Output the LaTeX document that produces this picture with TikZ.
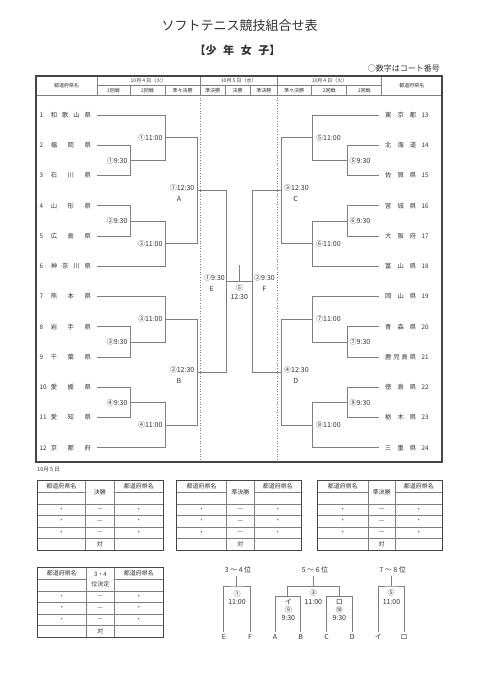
\documentclass[tikz,border=0pt]{standalone}
\usepackage{fontspec}
\newfontfamily\jp{Noto Sans CJK JP}
\usetikzlibrary{calc}
\definecolor{txt}{HTML}{333333}
\definecolor{brc}{HTML}{7F7F7F}
\definecolor{tbc}{HTML}{454545}
\newcommand\kmfork[4]{%
  \coordinate (#4) at ($(#3 |- #1)!0.5!(#3 |- #2)$);%
  \draw[br] (#1) -- (#3 |- #1) -- (#3 |- #2) -- (#2);}
\newcommand\kmteamL[3]{%
  \node[nm,anchor=west] (nl#1) at (39.5,#2) {#1};%
  \node[nm,anchor=west] (ml#1) at (50.7,#2) {\makebox[40pt][s]{#3}};%
  \coordinate (L#1) at (97,#2);}
\newcommand\kmteamR[3]{%
  \node[nm,anchor=west] (nr#1) at (421.5,#2) {#1};%
  \node[nm,anchor=west] (mr#1) at (385,#2) {\makebox[31pt][s]{#3}};%
  \coordinate (R#1) at (379,#2);}
\newcommand\kmtable[7]{%
  \draw[tin] (#3,#6) -- (#3,#6+69.5) (#4,#6) -- (#4,#6+69.5);%
  \draw[tin] (#2,#6+11.5) -- (#3,#6+11.5) (#4,#6+11.5) -- (#5,#6+11.5);%
  \foreach \r in {23.5,35,46.3,57.6} {\draw[tin] (#2,#6+\r) -- (#5,#6+\r);}%
  \draw[tbl] (#2,#6) rectangle (#5,#6+69.5);%
  \node[tb] (#1h1) at ({(#2+#3)/2},#6+5.9) {都道府県名};%
  \node[tb] (#1h2) at ({(#4+#5)/2},#6+5.9) {都道府県名};%
  \node[tb,align=center] (#1hm) at ({(#3+#4)/2},#6+11.75) {#7};%
  \foreach \r [count=\k] in {29.25,40.65,51.95} {%
    \node[tb] (#1a\k) at ({(#2+#3)/2},#6+\r) {・};%
    \node[tb] (#1b\k) at ({(#3+#4)/2},#6+\r) {—};%
    \node[tb] (#1c\k) at ({(#4+#5)/2},#6+\r) {・};}%
  \node[tb] (#1t) at ({(#3+#4)/2},#6+63.6) {対};}
\begin{document}
\begin{tikzpicture}[x=1pt,y=-1pt,
  br/.style={draw=brc,line width=0.6pt},
  tbl/.style={draw=tbc,line width=1.1pt},
  tin/.style={draw=brc,line width=0.45pt},
  dotl/.style={draw=brc,line width=0.6pt,dotted},
  hd/.style={text=txt,inner sep=0pt,font=\jp\fontsize{5}{5}\selectfont},
  nm/.style={text=txt,inner sep=0pt,font=\jp\fontsize{6.3}{6.3}\selectfont},
  lb/.style={text=txt,inner sep=0pt,font=\jp\fontsize{7}{7}\selectfont},
  tb/.style={text=txt,inner sep=0pt,font=\jp\fontsize{6}{10.6}\selectfont},
  bl/.style={text=txt,inner sep=0pt,font=\jp\fontsize{7}{7}\selectfont}]
\useasboundingbox (0,0) rectangle (480,681);
\fill[white] (0,0) rectangle (480,681);
% titles
\node[text=txt,inner sep=0pt,font=\jp\fontsize{13}{13}\selectfont] (title) at (239.5,26) {ソフトテニス競技組合せ表};
\node[text=txt,inner sep=0pt,font=\jp\bfseries\fontsize{11}{11}\selectfont] (sub) at (237.5,50) {【少\hspace{0.6em}年\hspace{0.6em}女\hspace{0.6em}子】};
\node[text=txt,inner sep=0pt,anchor=east,font=\jp\fontsize{8}{8}\selectfont] (note) at (440,68.5) {○数字はコート番号};
% main table frame
\draw[tin] (36,95) -- (442,95);
\draw[tin] (97,85.5) -- (381.7,85.5);
\foreach \x in {97,200,277.5,381.7} {\draw[tin] (\x,76) -- (\x,95);}
\foreach \x in {130,165,225,250,311.7,346.7} {\draw[tin] (\x,85.5) -- (\x,95);}
\draw[dotl] (200,95) -- (200,462) (277.5,95) -- (277.5,462);
\draw[tbl] (36,76) rectangle (442,462);
\node[hd] (hl) at (66.5,85.5) {都道府県名};
\node[hd] (hr) at (411.8,85.5) {都道府県名};
\node[hd] (d1) at (148.5,80.8) {10月 4 日（火）};
\node[hd] (d2) at (238.75,80.8) {10月 5 日（水）};
\node[hd] (d3) at (329.6,80.8) {10月 4 日（火）};
\foreach \x/\t [count=\k] in {113.5/1回戦,147.5/2回戦,182.5/準々決勝,212.5/準決勝,237.5/決勝,263.75/準決勝,294.2/準々決勝,329.2/2回戦,364.2/1回戦}
  {\node[hd] (hs\k) at (\x,90.3) {\t};}
% teams
\kmteamL{1}{115}{和\hfill 歌\hfill 山\hfill 県}
\kmteamL{2}{145.25}{福\hfill 岡\hfill 県}
\kmteamL{3}{175.5}{石\hfill 川\hfill 県}
\kmteamL{4}{205.75}{山\hfill 形\hfill 県}
\kmteamL{5}{236}{広\hfill 島\hfill 県}
\kmteamL{6}{266.25}{神\hfill 奈\hfill 川\hfill 県}
\kmteamL{7}{296.5}{熊\hfill 本\hfill 県}
\kmteamL{8}{326.75}{岩\hfill 手\hfill 県}
\kmteamL{9}{357}{千\hfill 葉\hfill 県}
\kmteamL{10}{387.25}{愛\hfill 媛\hfill 県}
\kmteamL{11}{417.5}{愛\hfill 知\hfill 県}
\kmteamL{12}{447.75}{京\hfill 都\hfill 府}
\kmteamR{13}{115}{東\hfill 京\hfill 都}
\kmteamR{14}{145.25}{北\hfill 海\hfill 道}
\kmteamR{15}{175.5}{佐\hfill 賀\hfill 県}
\kmteamR{16}{205.75}{宮\hfill 城\hfill 県}
\kmteamR{17}{236}{大\hfill 阪\hfill 府}
\kmteamR{18}{266.25}{富\hfill 山\hfill 県}
\kmteamR{19}{296.5}{岡\hfill 山\hfill 県}
\kmteamR{20}{326.75}{青\hfill 森\hfill 県}
\kmteamR{21}{357}{鹿\hfill 児\hfill 島\hfill 県}
\kmteamR{22}{387.25}{徳\hfill 島\hfill 県}
\kmteamR{23}{417.5}{栃\hfill 木\hfill 県}
\kmteamR{24}{447.75}{三\hfill 重\hfill 県}
% column references
\coordinate (xl1) at (130,0); \coordinate (xl2) at (165,0);
\coordinate (xl3) at (197,0); \coordinate (xl4) at (226.5,0);
\coordinate (xr1) at (347,0); \coordinate (xr2) at (312,0);
\coordinate (xr3) at (281,0); \coordinate (xr4) at (252,0);
% left bracket
\kmfork{L2}{L3}{xl1}{a1}
\kmfork{L1}{a1}{xl2}{b1}
\kmfork{L4}{L5}{xl1}{a2}
\kmfork{a2}{L6}{xl2}{b2}
\kmfork{b1}{b2}{xl3}{q1}
\kmfork{L8}{L9}{xl1}{a3}
\kmfork{L7}{a3}{xl2}{b3}
\kmfork{L10}{L11}{xl1}{a4}
\kmfork{a4}{L12}{xl2}{b4}
\kmfork{b3}{b4}{xl3}{q2}
\kmfork{q1}{q2}{xl4}{sfL}
% right bracket
\kmfork{R14}{R15}{xr1}{c1}
\kmfork{R13}{c1}{xr2}{d1}
\kmfork{R16}{R17}{xr1}{c2}
\kmfork{c2}{R18}{xr2}{d2}
\kmfork{d1}{d2}{xr3}{q3}
\kmfork{R20}{R21}{xr1}{c3}
\kmfork{R19}{c3}{xr2}{d3}
\kmfork{R22}{R23}{xr1}{c4}
\kmfork{c4}{R24}{xr2}{d4}
\kmfork{d3}{d4}{xr3}{q4}
\kmfork{q3}{q4}{xr4}{sfR}
% final
\draw[br] (sfL) -- (sfR);
\coordinate (fn) at ($(sfL)!0.5!(sfR)$);
\coordinate (fnt) at ($(fn)+(0,-16.4)$);
\draw[br] (fn) -- (fnt);
% match labels left
\node[lb,anchor=east] (ta1) at ([xshift=-2.3pt]a1) {①9:30};
\node[lb,anchor=east] (tb1) at ([xshift=-2.3pt]b1) {①11:00};
\node[lb,anchor=east] (ta2) at ([xshift=-2.3pt]a2) {②9:30};
\node[lb,anchor=east] (tb2) at ([xshift=-2.3pt]b2) {②11:00};
\node[lb,anchor=east] (ta3) at ([xshift=-2.3pt]a3) {③9:30};
\node[lb,anchor=east] (tb3) at ([xshift=-2.3pt]b3) {③11:00};
\node[lb,anchor=east] (ta4) at ([xshift=-2.3pt]a4) {④9:30};
\node[lb,anchor=east] (tb4) at ([xshift=-2.3pt]b4) {④11:00};
% match labels right
\node[lb,anchor=west] (tc1) at ([xshift=2.5pt]c1) {⑤9:30};
\node[lb,anchor=west] (td1) at ([xshift=4pt]d1) {⑤11:00};
\node[lb,anchor=west] (tc2) at ([xshift=2.5pt]c2) {⑥9:30};
\node[lb,anchor=west] (td2) at ([xshift=4pt]d2) {⑥11:00};
\node[lb,anchor=west] (tc3) at ([xshift=2.5pt]c3) {⑦9:30};
\node[lb,anchor=west] (td3) at ([xshift=4pt]d3) {⑦11:00};
\node[lb,anchor=west] (tc4) at ([xshift=2.5pt]c4) {⑧9:30};
\node[lb,anchor=west] (td4) at ([xshift=4pt]d4) {⑧11:00};
% quarterfinal labels
\node[lb,anchor=east] (tq1) at ([xshift=-2.5pt,yshift=2.5pt]q1) {①12:30};
\node[lb] (tA) at ([xshift=-18pt,yshift=-8.5pt]q1) {A};
\node[lb,anchor=east] (tq2) at ([xshift=-2.5pt,yshift=2.5pt]q2) {②12:30};
\node[lb] (tB) at ([xshift=-18pt,yshift=-8.5pt]q2) {B};
\node[lb,anchor=west] (tq3) at ([xshift=3pt,yshift=2.5pt]q3) {③12:30};
\node[lb] (tC) at ([xshift=14.7pt,yshift=-8.5pt]q3) {C};
\node[lb,anchor=west] (tq4) at ([xshift=3pt,yshift=2.5pt]q4) {④12:30};
\node[lb] (tD) at ([xshift=14.7pt,yshift=-8.5pt]q4) {D};
% semifinal / final labels
\node[lb,anchor=east] (ts1) at ([xshift=-1.5pt,yshift=4pt]sfL) {①9:30};
\node[lb] (tE) at ([xshift=-14.8pt,yshift=-7.6pt]sfL) {E};
\node[lb,anchor=west] (ts2) at ([xshift=2pt,yshift=4pt]sfR) {②9:30};
\node[lb] (tF) at ([xshift=12.3pt,yshift=-7.6pt]sfR) {F};
\node[lb] (tf1) at ([yshift=-6pt]fn) {⑤};
\node[lb] (tf2) at ([yshift=-15.3pt]fn) {12:30};
% lower section
\node[text=txt,inner sep=0pt,anchor=west,font=\jp\fontsize{5.5}{5.5}\selectfont] (day5) at (37,470) {10月 5 日};
\kmtable{ta}{37.3}{85.5}{114.3}{163.3}{480.7}{決勝}
\kmtable{tb}{176.7}{226.7}{254}{301.7}{480.7}{準決勝}
\kmtable{tc}{317.3}{368.3}{395}{442.7}{480.7}{準決勝}
\kmtable{td}{37.3}{86.5}{114.3}{163.3}{567.7}{3・4\\位決定}
% 3-4 place
\node[bl] (h34) at (238,570) {3 ～ 4 位};
\coordinate (j34t) at (236.7,575.7); \coordinate (j34) at (236.7,586);
\coordinate (pE) at (223.3,631.7); \coordinate (pF) at (250,631.7);
\draw[br] (j34t) -- (j34);
\draw[br] (pE) |- (j34) -| (pF);
\node[bl] (k34a) at (237,594.3) {①};
\node[bl] (k34b) at (237,602.3) {11:00};
\node[bl] (lE) at (224,637) {E};
\node[bl] (lF) at (250,637) {F};
% 5-6 place
\node[bl] (h56) at (315,570) {5 ～ 6 位};
\coordinate (j56t) at (313.3,575.7); \coordinate (j56) at (313.3,586.7);
\coordinate (jab) at (287.7,596.7); \coordinate (jcd) at (339.3,596.7);
\coordinate (pA) at (275,631.7); \coordinate (pB) at (300.7,631.7);
\coordinate (pC) at (326.7,631.7); \coordinate (pD) at (352.3,631.7);
\draw[br] (j56t) -- (j56);
\draw[br] (jab) |- (j56) -| (jcd);
\draw[br] (pA) |- (jab) -| (pB);
\draw[br] (pC) |- (jcd) -| (pD);
\node[bl] (k56a) at (313.3,593.3) {③};
\node[bl] (k56b) at (313.3,601.7) {11:00};
\node[bl] (k56c) at (288.3,601.7) {イ};
\node[bl] (k56d) at (288.3,610) {⑨};
\node[bl] (k56e) at (288.3,618.3) {9:30};
\node[bl] (k56f) at (339.3,601.7) {ロ};
\node[bl] (k56g) at (339.3,610) {⑩};
\node[bl] (k56h) at (339.3,618.3) {9:30};
\node[bl] (lA) at (275,637) {A};
\node[bl] (lB) at (300.7,637) {B};
\node[bl] (lC) at (326.7,637) {C};
\node[bl] (lD) at (352.3,637) {D};
% 7-8 place
\node[bl] (h78) at (392.7,570) {7 ～ 8 位};
\coordinate (j78t) at (391,575.7); \coordinate (j78) at (391,586);
\coordinate (pI) at (378.3,631.7); \coordinate (pR) at (404,631.7);
\draw[br] (j78t) -- (j78);
\draw[br] (pI) |- (j78) -| (pR);
\node[bl] (k78a) at (391,592.7) {⑤};
\node[bl] (k78b) at (391.5,601.7) {11:00};
\node[bl] (lI) at (378.3,637) {イ};
\node[bl] (lR) at (404,637) {ロ};
\end{tikzpicture}
\end{document}
